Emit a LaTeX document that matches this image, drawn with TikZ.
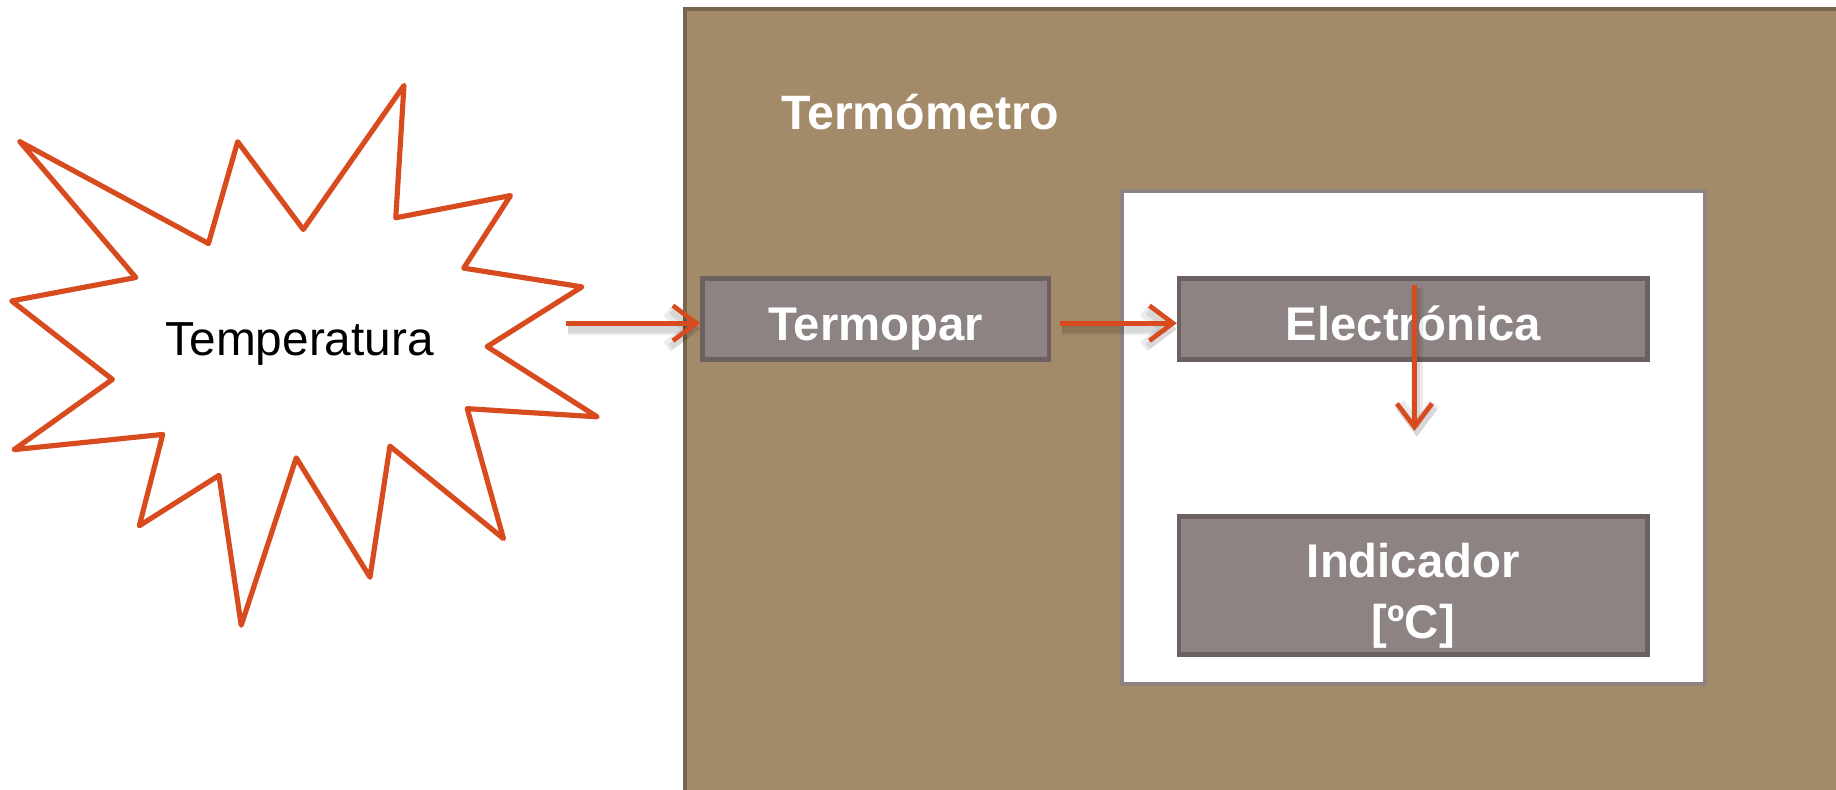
\documentclass[tikz,border=0pt]{standalone}
\usepackage{fontspec}
\setmainfont{Liberation Sans}
\usetikzlibrary{arrows.meta,calc}
\definecolor{brownfill}{HTML}{A38B6A}
\definecolor{browndark}{HTML}{76664E}
\definecolor{boxfill}{HTML}{8E8383}
\definecolor{boxedge}{HTML}{6C6061}
\definecolor{whiteedge}{HTML}{8E8383}
\definecolor{arr}{HTML}{D84B1E}
\begin{document}
\begin{tikzpicture}[x=0.5pt,y=-0.5pt,
  block/.style={draw=boxedge, line width=2pt, fill=boxfill, text=white,
    font=\bfseries\fontsize{20.2}{26}\selectfont, inner sep=0pt, align=center,
    text depth=0pt},
  flow/.style={draw=arr, line width=2pt,
    -{Straight Barb[length=10pt,width=15pt,line width=2pt]}},
  flowshadow/.style={draw=black, opacity=0.08, line width=#1,
    -{Straight Barb[length=10pt,width=15pt,line width=#1]}},
  burst/.style={draw=arr, line width=2.2pt, line join=round, fill=white}]
\useasboundingbox (0,0) rectangle (1568,674);
\clip (0,0) rectangle (1568,674);
\fill[white] (0,0) rectangle (1568,674);
% outer thermometer box
\draw[draw=browndark, fill=brownfill, line width=1.6pt] (585,8) rectangle (1620,720);
\node[text=white, font=\bfseries\fontsize{20.6}{24}\selectfont, anchor=west, inner sep=0pt] (title) at (667,96) {Termómetro};
% inner white box
\draw[draw=whiteedge, fill=white, line width=1.6pt] (958,163) rectangle (1456,584);
% blocks
\node[block, text height=18pt, minimum width=148pt, minimum height=34.5pt] (tp) at (748,272.5) {Termopar};
\node[block, text height=18pt, minimum width=200pt, minimum height=34.5pt] (el) at (1207,272.5) {Electrónica};
\node[block, text height=45pt, minimum width=200pt, minimum height=59pt] (ind) at (1207,500) {Indicador\\{[ºC]}};
% starburst
\draw[burst] (17,121) -- (178,208) -- (203,121) -- (259,196) -- (345,73) -- (338,186)
  -- (436,167) -- (396,229) -- (497,245) -- (416,296) -- (510,356) -- (399,349)
  -- (430,460) -- (333,381) -- (316,493) -- (253,391) -- (206,534) -- (187,406)
  -- (119,449) -- (139,371) -- (12,384) -- (96,324) -- (10,257) -- (116,237) -- cycle;
\node[font=\fontsize{20.4}{24}\selectfont, inner sep=0pt] (temp) at (256,294) {Temperatura};
% connectors
\coordinate (s1) at (483,276);
\coordinate (s2) at (905,276);
\coordinate (s3) at ($(el.north)+(1,7)$);
\coordinate (e3) at (1208,368);
\foreach \w in {3pt,5pt}{
  \draw[flowshadow=\w] ($(s1)+(2,5)$) -- ($(s1 -| tp.west)+(0,5)$);
  \draw[flowshadow=\w] ($(s2)+(2,5)$) -- ($(s2 -| el.west)+(0,5)$);
  \draw[flowshadow=\w] ($(s3)+(2,3)$) -- ($(e3)+(2,5)$);
}
\draw[flow] (s1) -- (s1 -| tp.west);
\draw[flow] (s2) -- (s2 -| el.west);
\draw[flow] (s3) -- (e3);
\end{tikzpicture}
\end{document}
